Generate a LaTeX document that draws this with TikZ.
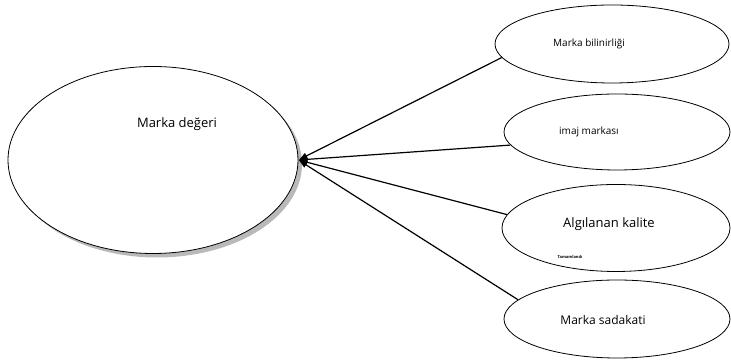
\documentclass[tikz,border=0pt]{standalone}
\usepackage{fontspec}
\setmainfont{Open Sans}
\usepackage{tikz}
\usetikzlibrary{positioning, arrows.meta, shapes, shadows}

\begin{document}
\begin{tikzpicture}[
			% GLOBAL CFG
			x=1pt, y=1pt,
			>=Latex,
			% Styles
			big/.style={% For the main ellipse
				ellipse,
				draw=black,
				fill=white,
				thick,
				inner sep=0pt,
				drop shadow={shadow xshift=4pt, shadow yshift=-4pt, fill=black!55},
			},
			factor/.style={% For the four factors
				ellipse,
				draw=black,
				fill=white,
				thick,
				inner sep=0pt,
			},
			mylabel/.style={% texts inside the ellipses
				font=\fontsize{10}{12}\selectfont,
				inner sep=0pt,
			},
			ArrowF/.style={% Arrows to the main ellipse
				line width=1.2pt,
				-{Latex[length=9pt,width=7pt]},
			},
			]
			\useasboundingbox (0,0) rectangle (731,363);
			
			% Draw the main ellipse
			\node [big, minimum width=290, minimum height=187] (deger) at (153,203) {};
			\node [mylabel, font=\fontsize{13}{15}\selectfont] (degerlbl) at (177,239) {Marka değeri};
			
			% Draw the factors
			\node [factor, minimum width=234, minimum height=78] (bilinirlik) at (612,319) {};
			\node [factor, minimum width=226, minimum height=76] (imaj) at (617,231) {};
			\node [factor, minimum width=228, minimum height=87] (kalite) at (616,135) {};
			\node [factor, minimum width=226, minimum height=78] (sadakat) at (617,44) {};
			
			% Texts of the factors
			\node [mylabel] (bilinirliklbl) at (589,319) {Marka bilinirliği};
			\node [mylabel] (imajlbl) at (589,231) {imaj markası};
			\node [mylabel, font=\fontsize{13}{15}\selectfont] (kalitelbl) at (609,139) {Algılanan kalite};
			\node [mylabel, font=\bfseries\fontsize{4}{5}\selectfont] (tamamlbl) at (570,106) {Tamamlandı};
			\node [mylabel, font=\fontsize{12}{14}\selectfont] (sadakatlbl) at (603,43) {Marka sadakati};
			
			% Drawing arrows
			\draw [ArrowF] (bilinirlik.187) -- (deger.east);
			\draw [ArrowF] (imaj.187) -- (deger.east);
			\draw [ArrowF] (kalite.173) -- (deger.east);
			\draw [ArrowF] (sadakat.169) -- (deger.east);
			
		\end{tikzpicture}
\end{document}
